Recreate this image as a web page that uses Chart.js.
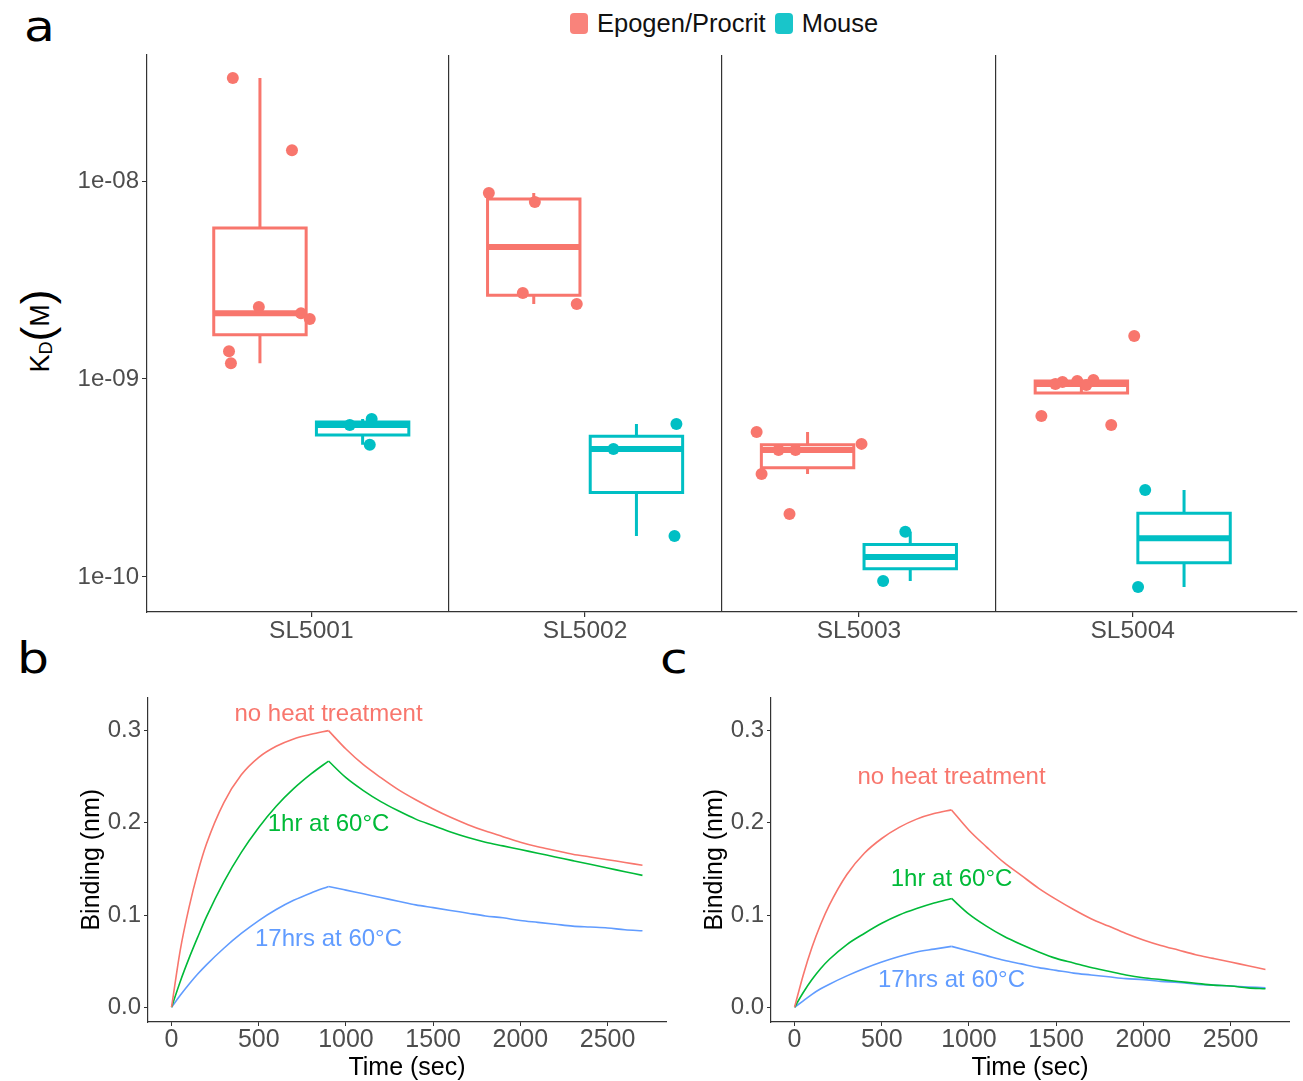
<!DOCTYPE html>
<html>
<head>
<meta charset="utf-8">
<script src="https://cdn.jsdelivr.net/npm/chart.js@4.4.1/dist/chart.umd.min.js"></script>
<style>
  body { margin: 0; background: #fff; width: 1303px; height: 1081px; position: relative; overflow: hidden;
         font-family: "Liberation Sans", Arial, sans-serif; }
  canvas { position: absolute; }
  .letter { position: absolute; font-family: "DejaVu Sans", sans-serif; font-size: 42px; line-height: 42px; color: #000;
            transform: scaleX(1.2); transform-origin: left top; }
  #legend { position: absolute; left: 570px; top: 6px; height: 34px; display: flex; align-items: center;
            font-size: 25.5px; color: #111; white-space: nowrap; }
  #legend .key { width: 18px; height: 21px; border-radius: 4px; margin-right: 9px; opacity: 0.9; }
  #legend .txt { margin-right: 9px; }
  #kd { position: absolute; left: -33px; top: 306px; width: 140px; height: 50px; line-height: 50px;
        transform: rotate(-90deg); text-align: center; font-size: 27px; color: #000; white-space: nowrap; }
  #kd .sub { font-size: 18px; vertical-align: -3px; }
  #kd .par { font-size: 44px; font-weight: 300; vertical-align: -3px; }
</style>
</head>
<body>
<div class="letter" style="left:24px; top:6px;">a</div>
<div class="letter" style="left:17px; top:638px;">b</div>
<div class="letter" style="left:660px; top:638px;">c</div>
<div id="legend"></div>
<div id="kd">K<span class="sub">D</span><span class="par">(</span>M<span class="par">)</span></div>

<canvas id="panelA" width="1243" height="655" style="left:60px; top:0px;"></canvas>
<canvas id="panelB" width="605" height="401" style="left:75px; top:680px;"></canvas>
<canvas id="panelC" width="605" height="401" style="left:698px; top:680px;"></canvas>

<script>
const FONT = '"Liberation Sans", Arial, sans-serif';

// ---- panel a : K_D per sample ----
const categories = ['SL5001', 'SL5002', 'SL5003', 'SL5004'];
const groups = ['Epogen/Procrit', 'Mouse'];
const groupColors = ['#F8766D', '#00BFC4'];

// box statistics (M)
const epoLow  = [1.20e-9, 2.39e-9, 3.31e-10, 9.33e-10];
const epoQ1   = [1.67e-9, 2.65e-9, 3.56e-10, 8.49e-10];
const epoMed  = [2.15e-9, 4.64e-9, 4.38e-10, 9.44e-10];
const epoQ3   = [5.79e-9, 8.11e-9, 4.65e-10, 9.77e-10];
const epoHigh = [3.31e-8, 8.69e-9, 5.39e-10, 9.89e-10];

const mouseLow  = [4.65e-10, 1.61e-10, 9.55e-11, 8.89e-11];
const mouseQ1   = [5.21e-10, 2.67e-10, 1.10e-10, 1.18e-10];
const mouseMed  = [5.86e-10, 4.43e-10, 1.26e-10, 1.57e-10];
const mouseQ3   = [6.07e-10, 5.13e-10, 1.46e-10, 2.10e-10];
const mouseHigh = [6.28e-10, 5.93e-10, 1.69e-10, 2.75e-10];

// single measurements: sample index, value, jitter
const epoPtCat = [0, 0, 0, 0, 0, 0, 0, 1, 1, 1, 1, 2, 2, 2, 2, 2, 2, 3, 3, 3, 3, 3, 3, 3, 3];
const epoPtVal = [3.31e-8, 1.43e-8, 2.31e-9, 2.15e-9, 2.01e-9, 1.38e-9, 1.20e-9,
                  8.69e-9, 7.83e-9, 2.72e-9, 2.39e-9,
                  5.39e-10, 4.70e-10, 4.38e-10, 4.38e-10, 3.31e-10, 2.08e-10,
                  1.65e-9, 9.89e-10, 9.77e-10, 9.66e-10, 9.44e-10, 9.33e-10, 6.50e-10, 5.86e-10];
const epoPtJit = [-0.099, 0.117, -0.004, 0.150, 0.182, -0.113, -0.106,
                  -0.164, 0.004, -0.040, 0.157,
                  -0.186, 0.197, -0.106, -0.044, -0.168, -0.066,
                  0.193, 0.044, -0.015, -0.069, -0.095, 0.018, -0.146, 0.109];

const mousePtCat = [0, 0, 0, 1, 1, 1, 2, 2, 3, 3];
const mousePtVal = [6.28e-10, 5.86e-10, 4.65e-10, 5.93e-10, 4.43e-10, 1.61e-10,
                    1.69e-10, 9.55e-11, 2.75e-10, 8.89e-11];
const mousePtJit = [0.033, -0.047, 0.026, 0.146, -0.084, 0.139, -0.018, -0.099, -0.142, -0.168];

const kdTicks = [1e-10, 1e-9, 1e-8];

// ---- panels b and c : binding curves ----
const time = [0, 50, 100, 150, 200, 300, 400, 500, 600, 700, 800, 900,
              1000, 1100, 1200, 1300, 1400, 1500, 1600, 1700, 1800, 1900,
              2000, 2100, 2200, 2300, 2400, 2500, 2600, 2700];
const switchTime = 900;   // association -> dissociation
const curveNames = ['no heat treatment', '1hr at 60°C', '17hrs at 60°C'];
const curveColors = ['#F8766D', '#00BA38', '#619CFF'];

const bNoHeat = [0, 0.062, 0.108, 0.146, 0.177, 0.222, 0.252, 0.271, 0.283, 0.291, 0.296, 0.300,
                 0.280, 0.263, 0.249, 0.236, 0.225, 0.215, 0.206, 0.198, 0.191, 0.185,
                 0.179, 0.174, 0.170, 0.166, 0.163, 0.160, 0.157, 0.154];
const bOneHr  = [0, 0.028, 0.053, 0.076, 0.098, 0.136, 0.168, 0.195, 0.218, 0.237, 0.253, 0.267,
                 0.249, 0.235, 0.223, 0.213, 0.204, 0.197, 0.190, 0.184, 0.179, 0.175,
                 0.171, 0.167, 0.163, 0.159, 0.155, 0.151, 0.147, 0.143];
const b17Hrs  = [0, 0.013, 0.025, 0.036, 0.046, 0.064, 0.080, 0.094, 0.106, 0.116, 0.124, 0.131,
                 0.127, 0.123, 0.119, 0.115, 0.111, 0.108, 0.105, 0.102, 0.099, 0.097,
                 0.094, 0.092, 0.090, 0.088, 0.087, 0.086, 0.084, 0.083];

const cNoHeat = [0, 0.035, 0.065, 0.090, 0.111, 0.144, 0.167, 0.183, 0.195, 0.204, 0.210, 0.214,
                 0.192, 0.174, 0.157, 0.143, 0.129, 0.117, 0.106, 0.096, 0.088, 0.080,
                 0.073, 0.067, 0.062, 0.057, 0.053, 0.049, 0.045, 0.041];
const cOneHr  = [0, 0.016, 0.030, 0.042, 0.052, 0.068, 0.080, 0.091, 0.100, 0.107, 0.113, 0.118,
                 0.101, 0.088, 0.077, 0.068, 0.060, 0.053, 0.048, 0.043, 0.039, 0.035,
                 0.032, 0.030, 0.028, 0.026, 0.024, 0.023, 0.021, 0.020];
const c17Hrs  = [0, 0.007, 0.014, 0.020, 0.025, 0.034, 0.042, 0.049, 0.055, 0.060, 0.063, 0.066,
                 0.061, 0.056, 0.051, 0.047, 0.043, 0.040, 0.037, 0.035, 0.033, 0.031,
                 0.030, 0.028, 0.027, 0.025, 0.024, 0.023, 0.022, 0.021];

// where the curve names sit (time, binding)
const labelTime = 900;
const bLabelY = [0.318, 0.198, 0.074];
const cLabelY = [0.249, 0.139, 0.029];
const timeTicks = [0, 500, 1000, 1500, 2000, 2500];
const bindTicks = [0, 0.1, 0.2, 0.3];


// legend
const legend = document.getElementById('legend');
groups.forEach((g, i) => {
  const k = document.createElement('span');
  k.className = 'key';
  k.style.background = groupColors[i];
  const t = document.createElement('span');
  t.className = 'txt';
  t.textContent = g;
  legend.appendChild(k);
  legend.appendChild(t);
});

const dodge = 0.1875;
const halfBox = 0.16875;

function boxSets(label, color, low, q1, med, q3, high, off) {
  const outline = [], whisk = [], mid = [];
  categories.forEach((c, i) => {
    const cx = i + 1 + off, l = cx - halfBox, r = cx + halfBox;
    outline.push({x: l, y: q1[i]}, {x: l, y: q3[i]}, {x: r, y: q3[i]}, {x: r, y: q1[i]}, {x: l, y: q1[i]}, {x: l, y: null});
    whisk.push({x: cx, y: q3[i]}, {x: cx, y: high[i]}, {x: cx, y: null},
               {x: cx, y: q1[i]}, {x: cx, y: low[i]}, {x: cx, y: null});
    mid.push({x: l, y: med[i]}, {x: r, y: med[i]}, {x: r, y: null});
  });
  const line = {showLine: true, pointRadius: 0, borderColor: color, backgroundColor: color,
                borderJoinStyle: 'miter', fill: false};
  return [
    {...line, label: label + ' median', data: mid, borderWidth: 6, borderCapStyle: 'butt'},
    {...line, label: label + ' box', data: outline, borderWidth: 3, borderCapStyle: 'square'},
    {...line, label: label + ' whisker', data: whisk, borderWidth: 3, borderCapStyle: 'butt'}
  ];
}

function pointSet(label, color, cats, vals, jit, off) {
  return {
    label: label,
    data: vals.map((v, i) => ({x: cats[i] + 1 + off + jit[i], y: v})),
    pointRadius: 6, pointBackgroundColor: color, pointBorderWidth: 0, showLine: false
  };
}

function kdLabel(v) {
  const e = Math.round(Math.log10(v));
  return '1e' + (e < 0 ? '-' : '+') + String(Math.abs(e)).padStart(2, '0');
}

const isHalf = v => Math.abs(v - Math.round(v)) > 0.1;

new Chart(document.getElementById('panelA'), {
  type: 'scatter',
  data: {
    datasets: [
      pointSet(groups[0], groupColors[0], epoPtCat, epoPtVal, epoPtJit, -dodge),
      pointSet(groups[1], groupColors[1], mousePtCat, mousePtVal, mousePtJit, dodge),
      ...boxSets(groups[0], groupColors[0], epoLow, epoQ1, epoMed, epoQ3, epoHigh, -dodge),
      ...boxSets(groups[1], groupColors[1], mouseLow, mouseQ1, mouseMed, mouseQ3, mouseHigh, dodge)
    ]
  },
  options: {
    responsive: false,
    animation: false,
    layout: {padding: {top: 55, right: 5, left: 0, bottom: 0}},
    plugins: {legend: {display: false}, tooltip: {enabled: false}},
    scales: {
      x: {
        type: 'linear', min: 0.4, max: 4.6,
        afterBuildTicks: s => { s.ticks = [1, 1.5, 2, 2.5, 3, 3.5, 4].map(v => ({value: v})); },
        afterFit: s => { s.height = 43; },
        ticks: {autoSkip: false, maxRotation: 0, padding: 0, color: '#4D4D4D',
                font: {size: 24.5, family: FONT},
                callback: v => isHalf(v) ? '' : categories[Math.round(v) - 1]},
        grid: {
          drawOnChartArea: true, tickLength: 5, lineWidth: 1.2,
          color: c => (c.tick && isHalf(c.tick.value)) ? '#333' : 'rgba(0,0,0,0)',
          tickColor: c => (c.tick && isHalf(c.tick.value)) ? 'rgba(0,0,0,0)' : '#333'
        },
        border: {color: '#333', width: 1.2}
      },
      y: {
        type: 'logarithmic', min: 6.65e-11, max: 4.33e-8,
        afterBuildTicks: s => { s.ticks = kdTicks.map(v => ({value: v})); },
        afterFit: s => { s.width = 87; },
        ticks: {padding: 3, color: '#4D4D4D', font: {size: 24, family: FONT}, callback: v => kdLabel(v)},
        grid: {drawOnChartArea: false, tickLength: 5, tickColor: '#333'},
        border: {color: '#333', width: 1.2}
      }
    }
  }
});

const curveLabels = {
  id: 'curveLabels',
  afterDatasetsDraw(chart, args, opts) {
    const {ctx, scales: {x, y}} = chart;
    ctx.save();
    ctx.font = '24px ' + FONT;
    ctx.textAlign = 'center';
    ctx.textBaseline = 'middle';
    opts.items.forEach(it => {
      ctx.fillStyle = it.color;
      ctx.fillText(it.text, x.getPixelForValue(it.x), y.getPixelForValue(it.y));
    });
    ctx.restore();
  }
};

function kinetics(id, series, labelY) {
  const sets = [];
  series.forEach((s, i) => {
    const pts = time.map((t, j) => ({x: t, y: s[j]}));
    const base = {showLine: true, pointRadius: 0, borderColor: curveColors[i], borderWidth: 1.6,
                  cubicInterpolationMode: 'monotone'};
    sets.push({...base, label: curveNames[i], data: pts.filter(p => p.x <= switchTime)});
    sets.push({...base, label: curveNames[i] + ' (dissociation)', data: pts.filter(p => p.x >= switchTime)});
  });
  new Chart(document.getElementById(id), {
    type: 'scatter',
    data: {datasets: sets},
    plugins: [curveLabels],
    options: {
      responsive: false,
      animation: false,
      layout: {padding: {top: 14, right: 14, left: 0, bottom: 0}},
      plugins: {
        legend: {display: false}, tooltip: {enabled: false},
        curveLabels: {items: curveNames.map((n, i) => ({text: n, color: curveColors[i], x: labelTime, y: labelY[i]}))}
      },
      scales: {
        x: {
          type: 'linear', min: -135, max: 2835,
          afterBuildTicks: s => { s.ticks = timeTicks.map(v => ({value: v})); },
          afterFit: s => { s.height = 59; },
          ticks: {maxRotation: 0, padding: -1, color: '#4D4D4D', font: {size: 25, family: FONT},
                  callback: v => String(v)},
          grid: {drawOnChartArea: false, tickLength: 4, tickColor: '#333'},
          border: {color: '#333', width: 1.2},
          title: {display: true, text: 'Time (sec)', color: '#000', font: {size: 25, family: FONT},
                  padding: {top: 0, bottom: -2}}
        },
        y: {
          min: -0.016, max: 0.336,
          afterBuildTicks: s => { s.ticks = bindTicks.map(v => ({value: v})); },
          afterFit: s => { s.width = 73; },
          ticks: {padding: 3, color: '#4D4D4D', font: {size: 24, family: FONT}, callback: v => v.toFixed(1)},
          grid: {drawOnChartArea: false, tickLength: 4, tickColor: '#333'},
          border: {color: '#333', width: 1.2},
          title: {display: true, text: 'Binding (nm)', color: '#000', font: {size: 25, family: FONT},
                  padding: {top: 2, bottom: 0}}
        }
      }
    }
  });
}

kinetics('panelB', [bNoHeat, bOneHr, b17Hrs], bLabelY);
kinetics('panelC', [cNoHeat, cOneHr, c17Hrs], cLabelY);
</script>
</body>
</html>
